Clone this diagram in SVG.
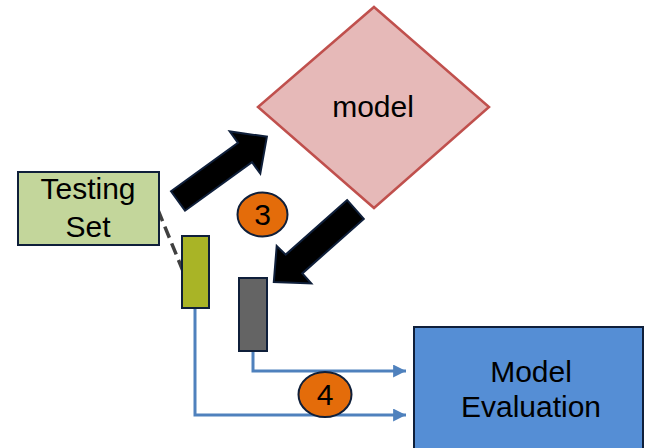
<svg xmlns="http://www.w3.org/2000/svg" width="648" height="448" viewBox="0 0 648 448">
  <style>
    .lbl { font-family: "Liberation Sans", Arial, sans-serif; font-size: 30px; fill: #000; text-anchor: middle; }
    .edge { stroke: #0f1f3a; stroke-width: 2; }
    .flow { fill: none; stroke: #4f81bd; stroke-width: 3; }
    .badge { fill: #e46c0a; stroke: #0f1f3a; stroke-width: 2; }
    .bigarrow { fill: #000; stroke: #0f1f3a; stroke-width: 2; stroke-linejoin: miter; }
  </style>
  <defs>
    <marker id="tri" markerWidth="5" markerHeight="5" refX="4.3" refY="2.15" orient="auto" markerUnits="strokeWidth">
      <path d="M0,0 L4.3,2.15 L0,4.3 Z" fill="#4f81bd"/>
    </marker>
  </defs>

  <rect width="648" height="448" fill="#fff"/>

  <g id="connectors">
    <!-- dashed link from testing set to its data bar -->
    <line x1="158" y1="210" x2="183" y2="271" stroke="#404040" stroke-width="3.5" stroke-dasharray="12 6"/>
    <!-- flows into evaluation -->
    <path class="flow" d="M253,351 V371 H406" marker-end="url(#tri)"/>
    <path class="flow" d="M195,308 V415 H406" marker-end="url(#tri)"/>
    <!-- block arrows -->
    <polygon class="bigarrow" points="171,191.3 238,142.8 229.7,131.4 266.9,136.7 260.3,173.6 252,162.2 185,210.7"/>
    <polygon class="bigarrow" points="347.2,200.1 285.7,254.6 276.7,246 273.8,282 311.3,283.5 302.3,273.4 363.8,218.9"/>
  </g>

  <g id="model">
    <polygon points="374,7 489,107 374,208 258,107" fill="#e6b9b8" stroke="#c0504d" stroke-width="2.5"/>
    <text class="lbl" x="373" y="117">model</text>
  </g>

  <g id="testing-set">
    <rect class="edge" x="18" y="172" width="141" height="73" fill="#c3d69b"/>
    <text class="lbl" x="88" y="199">Testing</text>
    <text class="lbl" x="88" y="237">Set</text>
  </g>

  <g id="test-data">
    <rect class="edge" x="182" y="236" width="27" height="72" fill="#a9b426"/>
  </g>

  <g id="predictions">
    <rect class="edge" x="239" y="278" width="28" height="73" fill="#646464"/>
  </g>

  <g id="step-3">
    <ellipse class="badge" cx="262.5" cy="214.5" rx="25" ry="22"/>
    <text class="lbl" x="262.5" y="225">3</text>
  </g>

  <g id="step-4">
    <ellipse class="badge" cx="325" cy="394.5" rx="26.5" ry="22.5"/>
    <text class="lbl" x="325" y="405">4</text>
  </g>

  <g id="model-evaluation">
    <rect class="edge" x="414" y="327" width="229" height="140" fill="#558ed5"/>
    <text class="lbl" x="531" y="382">Model</text>
    <text class="lbl" x="531" y="417">Evaluation</text>
  </g>
</svg>
